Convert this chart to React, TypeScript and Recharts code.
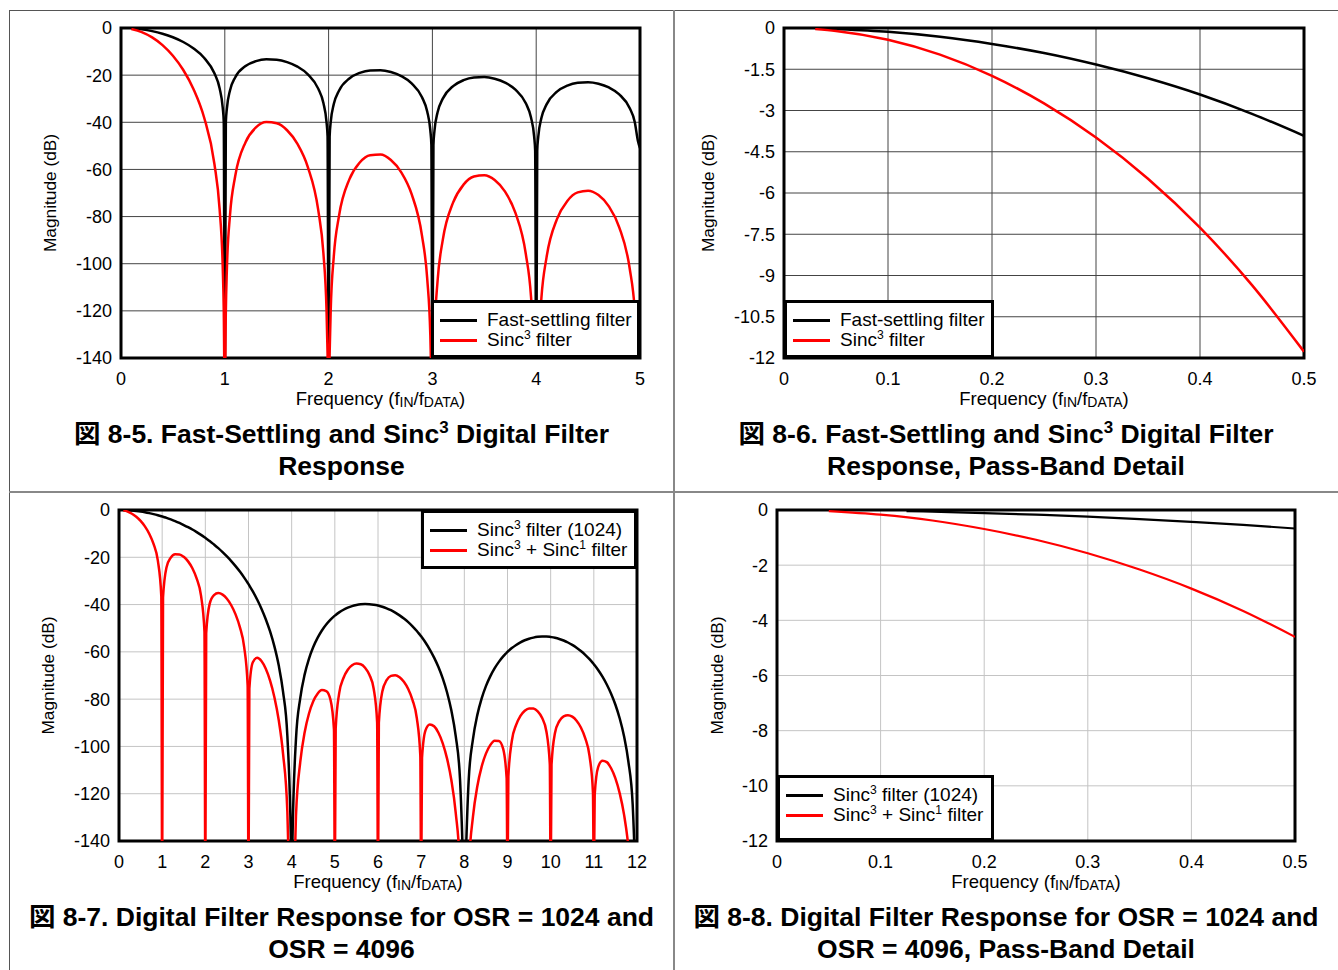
import React from 'react';
import {
  LineChart,
  Line,
  XAxis,
  YAxis,
  CartesianGrid,
  ReferenceArea,
  Legend,
} from 'recharts';

// 図 8-5: fast-settling vs sinc3, 0..5 fDATA
const fig5Freq = [
  0.1, 0.2, 0.3, 0.4, 0.5, 0.6, 0.7, 0.8, 0.9, 0.95, 0.98, 0.99, 1,
  1.01, 1.02, 1.05, 1.1, 1.2, 1.3, 1.4, 1.5, 1.6, 1.7, 1.8, 1.9, 1.95, 1.98, 1.99, 2,
  2.01, 2.02, 2.05, 2.1, 2.2, 2.3, 2.4, 2.5, 2.6, 2.7, 2.8, 2.9, 2.95, 2.98, 2.99, 3,
  3.01, 3.02, 3.05, 3.1, 3.2, 3.3, 3.4, 3.5, 3.6, 3.7, 3.8, 3.9, 3.95, 3.98, 3.99, 4,
  4.01, 4.02, 4.05, 4.1, 4.2, 4.3, 4.4, 4.5, 4.6, 4.7, 4.8, 4.9, 4.95, 4.98, 5,
];
const fig5Fast = [
  -0.14, -0.58, -1.33, -2.42, -3.92, -5.94, -8.69, -12.62, -19.23, -25.61, -33.81, -39.91, -160,
  -40.09, -34.16, -26.48, -20.97, -16.14, -14.06, -13.3, -13.47, -14.46, -16.39, -19.66, -25.72, -31.86, -39.92, -45.98, -160,
  -46.07, -40.09, -32.29, -26.59, -21.41, -19.02, -17.98, -17.9, -18.68, -20.41, -23.5, -29.39, -35.45, -43.47, -49.51, -160,
  -49.57, -43.59, -35.74, -29.97, -24.66, -22.15, -21.01, -20.82, -21.51, -23.15, -26.16, -31.96, -37.99, -45.98, -52.02, -160,
  -52.06, -46.07, -38.21, -32.4, -27.02, -24.45, -23.25, -23.01, -23.63, -25.23, -28.18, -33.95, -39.95, -47.93, -51,
];
const fig5Sinc3 = [
  -0.43, -1.74, -3.98, -7.26, -11.77, -17.83, -26.06, -37.86, -57.68, -76.83, -101.43, -119.74, -160,
  -120.26, -102.47, -79.44, -62.91, -48.43, -42.19, -39.91, -40.4, -43.38, -49.18, -58.99, -77.15, -95.57, -119.75, -137.93, -160,
  -138.2, -120.28, -96.87, -79.76, -64.22, -57.06, -53.95, -53.71, -56.03, -61.23, -70.51, -88.17, -106.36, -130.41, -148.54, -160,
  -148.72, -130.76, -107.23, -89.91, -73.99, -66.46, -63.03, -62.47, -64.52, -69.44, -78.47, -95.89, -113.96, -137.95, -156.06, -170,
  -156.19, -138.21, -114.62, -97.2, -81.07, -73.36, -69.74, -69.02, -70.9, -75.68, -84.55, -101.84, -119.84, -143.79, -160,
];
const fig5XTicks = [0, 1, 2, 3, 4, 5];
const fig5YTicks = [0, -20, -40, -60, -80, -100, -120, -140];

// 図 8-6: pass-band detail
const fig6Freq = [0.03, 0.05, 0.1, 0.15, 0.2, 0.25, 0.3, 0.35, 0.4, 0.45, 0.5];
const fig6Fast = [-0.01, -0.04, -0.14, -0.32, -0.58, -0.91, -1.33, -1.83, -2.42, -3.12, -3.92];
const fig6Sinc3 = [-0.04, -0.11, -0.43, -0.97, -1.74, -2.74, -3.98, -5.48, -7.26, -9.35, -11.77];
const fig6XTicks = [0, 0.1, 0.2, 0.3, 0.4, 0.5];
const fig6YTicks = [0, -1.5, -3, -4.5, -6, -7.5, -9, -10.5, -12];

// 図 8-7: OSR 1024 vs 4096, 0..12 fDATA
const fig7Freq = [
  0.1, 0.2, 0.3, 0.4, 0.5, 0.6, 0.7, 0.8, 0.9, 0.98, 1,
  1.02, 1.1, 1.2, 1.3, 1.4, 1.5, 1.6, 1.7, 1.8, 1.9, 1.98, 2,
  2.02, 2.1, 2.2, 2.3, 2.4, 2.5, 2.6, 2.7, 2.8, 2.9, 2.98, 3,
  3.02, 3.1, 3.2, 3.3, 3.4, 3.5, 3.6, 3.7, 3.8, 3.9, 3.98, 4,
  4.02, 4.1, 4.2, 4.3, 4.4, 4.5, 4.6, 4.7, 4.8, 4.9, 4.98, 5,
  5.02, 5.1, 5.2, 5.3, 5.4, 5.5, 5.6, 5.7, 5.8, 5.9, 5.98, 6,
  6.02, 6.1, 6.2, 6.3, 6.4, 6.5, 6.6, 6.7, 6.8, 6.9, 6.98, 7,
  7.02, 7.1, 7.2, 7.3, 7.4, 7.5, 7.6, 7.7, 7.8, 7.9, 7.98, 8,
  8.02, 8.1, 8.2, 8.3, 8.4, 8.5, 8.6, 8.7, 8.8, 8.9, 8.98, 9,
  9.02, 9.1, 9.2, 9.3, 9.4, 9.5, 9.6, 9.7, 9.8, 9.9, 9.98, 10,
  10.02, 10.1, 10.2, 10.3, 10.4, 10.5, 10.6, 10.7, 10.8, 10.9, 10.98, 11,
  11.02, 11.1, 11.2, 11.3, 11.4, 11.5, 11.6, 11.7, 11.8, 11.9, 11.98, 12,
];
const fig7Sinc3 = [
  -0.03, -0.11, -0.24, -0.43, -0.67, -0.97, -1.33, -1.74, -2.21, -2.63, -2.74,
  -2.86, -3.33, -3.98, -4.69, -5.48, -6.35, -7.27, -8.26, -9.36, -10.52, -11.51, -11.77,
  -12.04, -13.11, -14.59, -16.12, -17.82, -19.66, -21.61, -23.74, -26.05, -28.6, -30.79, -31.36,
  -31.96, -34.45, -37.86, -41.74, -46.18, -51.37, -57.7, -65.7, -76.85, -95.5, -137.95, -160,
  -138.19, -96.82, -79.43, -69.63, -62.92, -57.91, -54.07, -50.95, -48.42, -46.36, -44.98, -44.68,
  -44.38, -43.3, -42.19, -41.32, -40.66, -40.21, -39.9, -39.79, -39.85, -40.05, -40.3, -40.39,
  -40.48, -40.92, -41.59, -42.4, -43.38, -44.56, -45.88, -47.41, -49.18, -51.19, -52.99, -53.44,
  -53.95, -56.05, -59.01, -62.44, -66.43, -71.23, -77.17, -84.81, -95.57, -113.89, -156.07, -170,
  -156.19, -114.55, -96.89, -86.76, -79.78, -74.5, -70.36, -67, -64.23, -61.93, -60.37, -59.98,
  -59.65, -58.39, -57.07, -55.96, -55.09, -54.43, -53.97, -53.65, -53.5, -53.52, -53.65, -53.71,
  -53.77, -54.06, -54.55, -55.21, -56.04, -57.04, -58.24, -59.62, -61.24, -63.1, -64.78, -65.23,
  -65.68, -67.69, -70.5, -73.81, -77.71, -82.36, -88.18, -95.7, -106.37, -124.57, -166.7, -180,
];
const fig7Combo = [
  -0.17, -0.69, -1.57, -2.85, -4.59, -6.91, -10.02, -14.36, -21.44, -36.44, -160,
  -37.01, -24.3, -20.12, -18.75, -18.78, -19.81, -21.73, -24.65, -29.03, -36.24, -51.42, -160,
  -52.13, -39.69, -36, -35.13, -35.8, -37.56, -40.29, -44.15, -49.55, -57.99, -74.25, -160,
  -75.54, -64.42, -62.52, -63.89, -67.19, -72.19, -79.21, -88.84, -103.01, -127.46, -183.93, -200,
  -184.25, -129.22, -106.45, -94.08, -86.17, -80.91, -77.71, -76.17, -76.6, -80.3, -92.9, -160,
  -92.37, -77.59, -71.07, -67.59, -65.69, -64.96, -65.24, -66.69, -69.68, -75.61, -89.81, -160,
  -90.05, -76.77, -72, -70.17, -69.88, -70.76, -72.65, -75.71, -80.39, -88.11, -103.85, -160,
  -104.86, -93.22, -90.72, -91.49, -94.19, -98.67, -105.17, -114.32, -127.97, -151.98, -208.09, -220,
  -208.25, -152.86, -129.73, -116.92, -108.65, -103.03, -99.43, -97.57, -97.68, -101.06, -113.42, -160,
  -112.73, -97.71, -90.91, -87.11, -84.93, -83.92, -84, -85.17, -87.88, -93.57, -107.61, -160,
  -107.77, -94.29, -89.28, -87.25, -86.76, -87.4, -89.13, -91.99, -96.47, -103.99, -119.57, -160,
  -120.5, -108.74, -106.04, -106.65, -109.23, -113.51, -119.85, -128.84, -142.37, -166.22, -222.25, -240,
];
const fig7XTicks = [0, 1, 2, 3, 4, 5, 6, 7, 8, 9, 10, 11, 12];
const fig7YTicks = [0, -20, -40, -60, -80, -100, -120, -140];

// 図 8-8: pass-band detail
const fig8Sinc3Freq = [0.125, 0.15, 0.2, 0.25, 0.3, 0.35, 0.4, 0.45, 0.5];
const fig8Sinc3 = [-0.04, -0.06, -0.11, -0.17, -0.24, -0.33, -0.43, -0.54, -0.67];
const fig8ComboFreq = [0.05, 0.1, 0.15, 0.2, 0.25, 0.3, 0.35, 0.4, 0.45, 0.5];
const fig8Combo = [-0.04, -0.17, -0.38, -0.69, -1.08, -1.57, -2.16, -2.85, -3.66, -4.6];
const fig8XTicks = [0, 0.1, 0.2, 0.3, 0.4, 0.5];
const fig8YTicks = [0, -2, -4, -6, -8, -10, -12];

const FONT = '"Liberation Sans", Arial, Helvetica, "Noto Sans CJK JP", sans-serif';
const CHART_W = 664;
const CHART_H = 400;
const BLACK = '#000000';
const RED = '#ff0000';

type Series = { label: string; color: string; freq: number[]; db: number[]; width: number };

type PanelConfig = {
  left: number;
  top: number;
  box: number[]; // plot area x0, y0, x1, y1 in page px
  xTicks: number[];
  yTicks: number[];
  grid: string;
  series: Series[];
  legend: number[]; // legend box x0, y0, x1, y1 in page px
  yTitleX: number;
  caption: string[];
  captionLeft: number;
  captionWidth: number;
  captionTop: number;
};

const zip = (freq: number[], db: number[]) => freq.map((f, i) => ({ f, db: db[i] }));

// "Sinc^3" -> Sinc with superscript 3
function rich(text: string) {
  return text.split(/\^(\d)/).map((part, i) =>
    i % 2 === 1 ? (
      <span
        key={i}
        style={{ fontSize: '0.64em', lineHeight: 0, position: 'relative', top: '-0.6em' }}
      >
        {part}
      </span>
    ) : (
      <React.Fragment key={i}>{part}</React.Fragment>
    ),
  );
}

function LegendBox({ items }: { items: Series[] }) {
  return (
    <div
      style={{
        boxSizing: 'border-box',
        width: '100%',
        height: '100%',
        border: '3px solid #000',
        background: '#fff',
        paddingTop: 7,
        fontFamily: FONT,
        fontSize: 19,
        color: '#000',
      }}
    >
      {items.map((it) => (
        <div key={it.label} style={{ display: 'flex', alignItems: 'center', height: 20, whiteSpace: 'nowrap' }}>
          <span style={{ marginLeft: 6, width: 37, height: 3, background: it.color, flex: 'none' }} />
          <span style={{ marginLeft: 10, lineHeight: '20px' }}>{rich(it.label)}</span>
        </div>
      ))}
    </div>
  );
}

function Panel({ cfg }: { cfg: PanelConfig }) {
  const [x0, y0, x1, y1] = cfg.box;
  const [lx0, ly0, lx1, ly1] = cfg.legend;
  const xDomain = [cfg.xTicks[0], cfg.xTicks[cfg.xTicks.length - 1]];
  const yDomain = [cfg.yTicks[cfg.yTicks.length - 1], cfg.yTicks[0]];
  const midX = (x0 + x1) / 2 - cfg.left;
  const midY = (y0 + y1) / 2 - cfg.top;
  const yTitleX = cfg.yTitleX - cfg.left;
  const xTitleY = y1 + 40 - cfg.top;
  const tickStyle = { fill: '#000', fontSize: 18, fontFamily: FONT };

  return (
    <>
      <div style={{ position: 'absolute', left: cfg.left, top: cfg.top }}>
        <LineChart
          width={CHART_W}
          height={CHART_H}
          margin={{ top: y0 - cfg.top, right: cfg.left + CHART_W - x1, bottom: 0, left: 0 }}
        >
          <CartesianGrid stroke={cfg.grid} strokeWidth={1} />
          <XAxis
            type="number"
            dataKey="f"
            domain={xDomain}
            ticks={cfg.xTicks}
            interval={0}
            allowDataOverflow
            axisLine={false}
            tickLine={false}
            tickSize={0}
            tickMargin={14}
            height={cfg.top + CHART_H - y1}
            tick={tickStyle}
            label={() => (
              <text
                x={midX}
                y={xTitleY}
                textAnchor="middle"
                dominantBaseline="central"
                fontFamily={FONT}
                fontSize={18.5}
                fill="#000"
              >
                Frequency (f
                <tspan fontSize={14} dy={4}>IN</tspan>
                <tspan dy={-4}>/f</tspan>
                <tspan fontSize={14} dy={4}>DATA</tspan>
                <tspan dy={-4}>)</tspan>
              </text>
            )}
          />
          <YAxis
            type="number"
            domain={yDomain}
            ticks={cfg.yTicks}
            interval={0}
            allowDataOverflow
            axisLine={false}
            tickLine={false}
            tickSize={0}
            tickMargin={9}
            width={x0 - cfg.left}
            tick={tickStyle}
            label={() => (
              <text
                x={yTitleX}
                y={midY}
                transform={`rotate(-90 ${yTitleX} ${midY})`}
                textAnchor="middle"
                dominantBaseline="central"
                fontFamily={FONT}
                fontSize={17.3}
                fill="#000"
              >
                Magnitude (dB)
              </text>
            )}
          />
          {cfg.series.map((s) => (
            <Line
              key={s.label}
              data={zip(s.freq, s.db)}
              dataKey="db"
              type="monotone"
              stroke={s.color}
              strokeWidth={s.width}
              dot={false}
              activeDot={false}
              isAnimationActive={false}
            />
          ))}
          <ReferenceArea
            x1={xDomain[0]}
            x2={xDomain[1]}
            y1={yDomain[0]}
            y2={yDomain[1]}
            fill="none"
            stroke="#000"
            strokeWidth={3}
            ifOverflow="visible"
          />
          <Legend
            layout="vertical"
            align="center"
            verticalAlign="middle"
            wrapperStyle={{ left: lx0 - cfg.left, top: ly0 - cfg.top, width: lx1 - lx0, height: ly1 - ly0 }}
            content={() => <LegendBox items={cfg.series} />}
          />
        </LineChart>
      </div>
      <div
        style={{
          position: 'absolute',
          left: cfg.captionLeft,
          width: cfg.captionWidth,
          top: cfg.captionTop,
          textAlign: 'center',
          fontFamily: FONT,
          fontWeight: 'bold',
          fontSize: 26.5,
          lineHeight: '32px',
          color: '#000',
          whiteSpace: 'nowrap',
        }}
      >
        {cfg.caption.map((line) => (
          <div key={line} style={{ height: 32 }}>{rich(line)}</div>
        ))}
      </div>
    </>
  );
}

const panels: PanelConfig[] = [
  {
    left: 10,
    top: 10,
    box: [121, 28, 640, 358],
    xTicks: fig5XTicks,
    yTicks: fig5YTicks,
    grid: '#444',
    series: [
      { label: 'Fast-settling filter', color: BLACK, freq: fig5Freq, db: fig5Fast, width: 2.5 },
      { label: 'Sinc^3 filter', color: RED, freq: fig5Freq, db: fig5Sinc3, width: 2.5 },
    ],
    legend: [431, 300, 640, 358],
    yTitleX: 50,
    caption: ['図 8-5. Fast-Settling and Sinc^3 Digital Filter', 'Response'],
    captionLeft: 9,
    captionWidth: 665,
    captionTop: 418,
  },
  {
    left: 674,
    top: 10,
    box: [784, 28, 1304, 358],
    xTicks: fig6XTicks,
    yTicks: fig6YTicks,
    grid: '#444',
    series: [
      { label: 'Fast-settling filter', color: BLACK, freq: fig6Freq, db: fig6Fast, width: 2.5 },
      { label: 'Sinc^3 filter', color: RED, freq: fig6Freq, db: fig6Sinc3, width: 2.5 },
    ],
    legend: [784, 300, 994, 358],
    yTitleX: 708,
    caption: ['図 8-6. Fast-Settling and Sinc^3 Digital Filter', 'Response, Pass-Band Detail'],
    captionLeft: 674,
    captionWidth: 664,
    captionTop: 418,
  },
  {
    left: 10,
    top: 492,
    box: [119, 510, 637, 841],
    xTicks: fig7XTicks,
    yTicks: fig7YTicks,
    grid: '#c4c4c4',
    series: [
      { label: 'Sinc^3 filter (1024)', color: BLACK, freq: fig7Freq, db: fig7Sinc3, width: 2.5 },
      { label: 'Sinc^3 + Sinc^1 filter', color: RED, freq: fig7Freq, db: fig7Combo, width: 2.5 },
    ],
    legend: [421, 510, 637, 569],
    yTitleX: 48,
    caption: ['図 8-7. Digital Filter Response for OSR = 1024 and', 'OSR = 4096'],
    captionLeft: 9,
    captionWidth: 665,
    captionTop: 901,
  },
  {
    left: 674,
    top: 492,
    box: [777, 510, 1295, 841],
    xTicks: fig8XTicks,
    yTicks: fig8YTicks,
    grid: '#c4c4c4',
    series: [
      { label: 'Sinc^3 filter (1024)', color: BLACK, freq: fig8Sinc3Freq, db: fig8Sinc3, width: 2.2 },
      { label: 'Sinc^3 + Sinc^1 filter', color: RED, freq: fig8ComboFreq, db: fig8Combo, width: 2.2 },
    ],
    legend: [777, 775, 994, 841],
    yTitleX: 717,
    caption: ['図 8-8. Digital Filter Response for OSR = 1024 and', 'OSR = 4096, Pass-Band Detail'],
    captionLeft: 674,
    captionWidth: 664,
    captionTop: 901,
  },
];

export default function App() {
  return (
    <div style={{ position: 'absolute', left: 0, top: 0, width: 1338, height: 970, background: '#fff', overflow: 'hidden' }}>
      {/* page frame */}
      <div style={{ position: 'absolute', left: 9, top: 10, width: 1329, height: 1, background: '#555' }} />
      <div style={{ position: 'absolute', left: 9, top: 10, width: 1, height: 960, background: '#555' }} />
      <div style={{ position: 'absolute', left: 673, top: 10, width: 2, height: 960, background: '#888' }} />
      <div style={{ position: 'absolute', left: 9, top: 491, width: 1329, height: 2, background: '#888' }} />
      {panels.map((p) => (
        <Panel key={p.caption[0]} cfg={p} />
      ))}
    </div>
  );
}
